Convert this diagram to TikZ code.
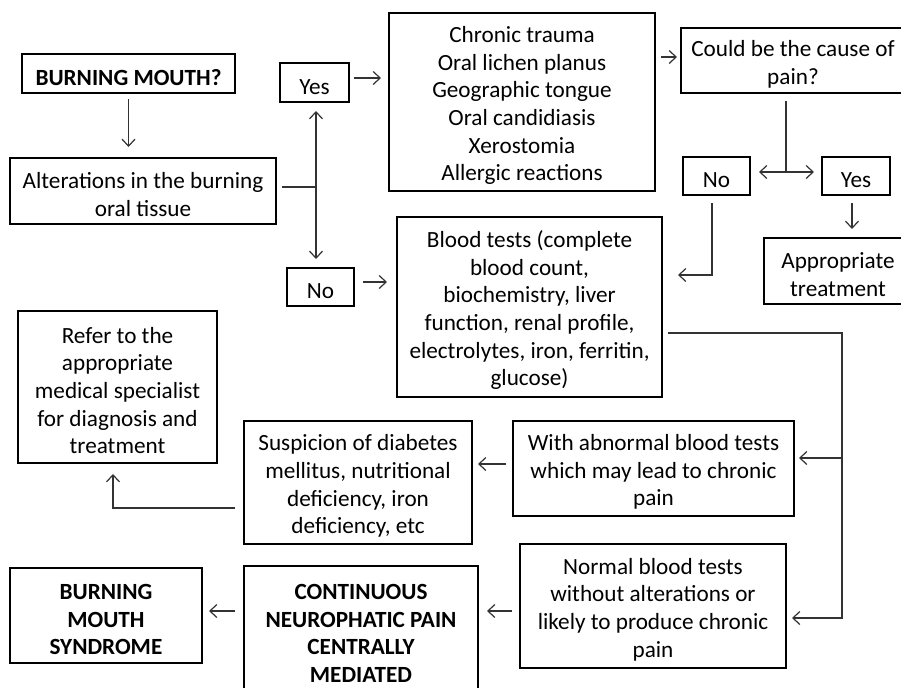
\documentclass[tikz,border=0pt]{standalone}
\usepackage{fontspec}
\setmainfont{Carlito}
\usetikzlibrary{arrows.meta}
% strut that drops the text a little inside its box
\newcommand{\tp}{\rule{0pt}{11.6pt}}

\begin{document}
\begin{tikzpicture}[x=0.5pt, y=-0.5pt,
    box/.style={draw, line width=1pt, align=center, inner sep=0pt,
      font=\fontsize{11.6}{13.85}\selectfont},
    bbox/.style={box, font=\fontsize{11.6}{13.85}\selectfont\bfseries},
    link/.style={draw=black!80, line width=0.6pt},
    arr/.style={link, -{Straight Barb[length=3.5pt,width=6.5pt]}},
    arrs/.style={link, {Straight Barb[length=3.5pt,width=6.5pt]}-{Straight Barb[length=3.5pt,width=6.5pt]}}]
  % Frame of the whole chart
  \useasboundingbox (0,0) rectangle (901,687);
  \clip (0,0) rectangle (901,687);
  \fill[white] (0,0) rectangle (901,687);

  % Top row: first question and the oral findings
  \node[bbox, minimum width=106.5pt, minimum height=19.5pt] (mouth) at (128.5,73.5) {\tp BURNING MOUTH?};
  \node[box, minimum width=133pt, minimum height=33pt] (alter) at (143,191) {\tp Alterations in the burning\\oral tissue};
  \node[box, minimum width=34.5pt, minimum height=19.5pt] (yesa) at (314.5,82.5) {\tp Yes};
  \node[box, minimum width=33.5pt, minimum height=19pt] (noa) at (320.5,287) {\tp No};
  \node[box, minimum width=133pt, minimum height=89pt] (lesion) at (522,102) {\tp Chronic trauma\\Oral lichen planus\\Geographic tongue\\Oral candidiasis\\Xerostomia\\Allergic reactions};
  \node[box, minimum width=112pt, minimum height=32.5pt] (cause) at (793,60.5) {\tp Could be the cause of\\pain?};
  \node[box, minimum width=33.5pt, minimum height=19pt] (nob) at (716.5,176) {\tp No};
  \node[box, minimum width=34pt, minimum height=19pt] (yesb) at (856,176) {\tp Yes};
  \node[box, minimum width=74pt, minimum height=33pt] (treat) at (838,271) {\tp Appropriate\\treatment};

  % Blood tests and their outcomes
  \node[box, minimum width=132.5pt, minimum height=90pt] (blood) at (529.5,307) {\tp Blood tests (complete\\blood count,\\biochemistry, liver\\function, renal profile,\\electrolytes, iron, ferritin,\\glucose)};
  \node[box, minimum width=140.5pt, minimum height=47.5pt] (abnorm) at (653.5,468.5) {\tp With abnormal blood tests\\which may lead to chronic\\pain};
  \node[box, minimum width=133pt, minimum height=62pt] (normal) at (653,606) {\tp Normal blood tests\\without alterations or\\likely to produce chronic\\pain};
  \node[box, minimum width=114pt, minimum height=61.5pt] (suspect) at (358,482.5) {\tp Suspicion of diabetes\\mellitus, nutritional\\deficiency, iron\\deficiency, etc};
  \node[box, minimum width=99.5pt, minimum height=76pt] (refer) at (117.5,387) {\tp Refer to the\\appropriate\\medical specialist\\for diagnosis and\\treatment};
  \node[bbox, minimum width=117pt, minimum height=63.5pt] (central) at (361,629.5) {\tp CONTINUOUS\\NEUROPHATIC PAIN\\CENTRALLY\\MEDIATED};
  \node[bbox, minimum width=96pt, minimum height=47.5pt] (bms) at (106,615.5) {\tp BURNING\\MOUTH\\SYNDROME};

  % Branch points
  \coordinate (splita) at (316,187);
  \coordinate (splitb) at (786,172);
  \coordinate (rail) at (842,500);

  % Connectors
  \draw[arr, shorten <=2.5pt, shorten >=5pt] (mouth) -- (mouth |- alter.north);
  \draw[link, shorten <=2.5pt] (alter.east |- splita) -- (splita);
  \draw[arrs, shorten <=4pt, shorten >=4pt] (yesa.south -| splita) -- (noa.north -| splita);
  \draw[arr, shorten <=2pt, shorten >=3.5pt] ([yshift=2.25pt]yesa.east) -- ([yshift=2.25pt]yesa.east -| lesion.west);
  \draw[arr, shorten <=4pt, shorten >=4.5pt] ([yshift=2.5pt]noa.east) -- ([yshift=2.5pt]noa.east -| blood.west);
  \draw[arr, shorten <=2.5pt, shorten >=1.5pt] ([yshift=1.75pt]cause.west -| lesion.east) -- ([yshift=1.75pt]cause.west);
  \draw[link, shorten <=3.5pt] (cause.south -| splitb) -- (splitb);
  \draw[arrs, shorten <=4pt, shorten >=3.5pt] (nob.east |- splitb) -- (yesb.west |- splitb);
  \draw[arr, shorten <=3.5pt, shorten >=4pt] ([xshift=-2pt]yesb.south) -- ([xshift=-2pt]yesb.south |- treat.north);
  \draw[arr, shorten <=3.5pt, shorten >=7.5pt] ([xshift=-2.25pt]nob.south) |- ([yshift=16pt]blood.east);
  \draw[arr, shorten <=2.5pt, shorten >=2.5pt] ([yshift=-13pt]blood.east) -| (rail) |- ([yshift=-6pt]normal.east);
  \draw[arr, shorten >=2pt] ([yshift=5.25pt]abnorm.east -| rail) -- ([yshift=5.25pt]abnorm.east);
  \draw[arr, shorten <=3pt, shorten >=2.5pt] ([yshift=2.25pt]abnorm.west) -- ([yshift=2.25pt]abnorm.west -| suspect.east);
  \draw[arr, shorten <=4pt, shorten >=5pt] ([yshift=-12.75pt]suspect.west) -| ([xshift=-2.25pt]refer.south);
  \draw[arr, shorten <=3.5pt, shorten >=4pt] ([yshift=-2.5pt]normal.west) -- ([yshift=-2.5pt]normal.west -| central.east);
  \draw[arr, shorten <=4pt, shorten >=3pt] ([yshift=9.25pt]central.west) -- ([yshift=9.25pt]central.west -| bms.east);
\end{tikzpicture}
\end{document}
